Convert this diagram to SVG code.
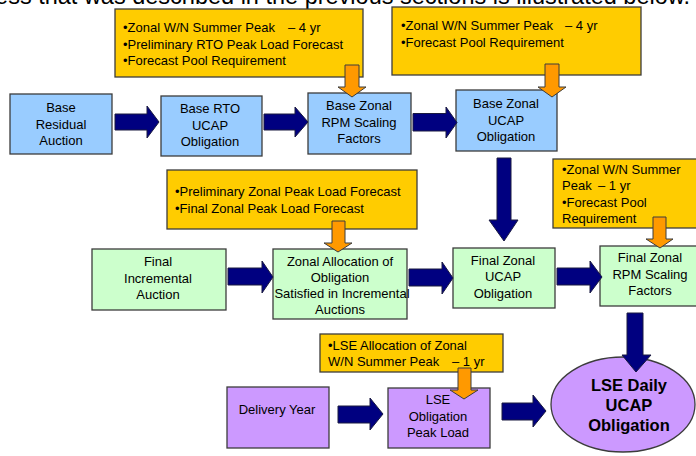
<svg xmlns="http://www.w3.org/2000/svg" width="696" height="456" viewBox="0 0 696 456">
<style>
text{font-family:"Liberation Sans",Arial,sans-serif;font-size:13px;fill:#000}
.c{text-anchor:middle}
.b{font-weight:bold;font-size:16.5px}
.blue{fill:#99CCFF;stroke:#3c3c3c;stroke-width:1.3}
.green{fill:#CCFFCC;stroke:#3c3c3c;stroke-width:1.3}
.purple{fill:#CC99FF;stroke:#3c3c3c;stroke-width:1.3}
.yellow{fill:#FFCC00;stroke:#3c3c3c;stroke-width:1.3}
.navy{fill:#000080;stroke:#1a1a40;stroke-width:1}
.orange{fill:#FF9900;stroke:#3c3c3c;stroke-width:1}
.title{font-size:23.5px;text-anchor:end}
</style>
<rect width="696" height="456" fill="#fff"/>
<text class="title" x="690" y="3.5">process that was described in the previous sections is illustrated below.</text>

<g id="note-base-rto">
<rect class="yellow" x="115" y="9" width="248" height="68"/>
<text x="123" y="32">•Zonal W/N Summer Peak<tspan x="288">– 4 yr</tspan></text>
<text x="123" y="48.5">•Preliminary RTO Peak Load Forecast</text>
<text x="123" y="65">•Forecast Pool Requirement</text>
</g>
<g id="note-base-zonal">
<rect class="yellow" x="392" y="7" width="249" height="68"/>
<text x="401" y="30">•Zonal W/N Summer Peak<tspan x="565">– 4 yr</tspan></text>
<text x="401" y="47">•Forecast Pool Requirement</text>
</g>
<g id="note-zonal-forecast">
<rect class="yellow" x="167" y="170" width="250" height="59"/>
<text x="175" y="196">•Preliminary Zonal Peak Load Forecast</text>
<text x="175" y="213">•Final Zonal Peak Load Forecast</text>
</g>
<g id="note-final-zonal">
<rect class="yellow" x="553" y="159" width="150" height="69"/>
<text x="562" y="174">•Zonal W/N Summer</text>
<text x="562" y="190">Peak<tspan x="598">– 1 yr</tspan></text>
<text x="562" y="207">•Forecast Pool</text>
<text x="562" y="223">Requirement</text>
</g>
<g id="note-lse">
<rect class="yellow" x="320" y="334" width="183" height="38"/>
<text x="328" y="350">•LSE Allocation of Zonal</text>
<text x="328" y="366">W/N Summer Peak<tspan x="452">– 1 yr</tspan></text>
</g>

<g id="base-residual-auction">
<rect class="blue" x="10" y="94" width="102" height="60"/>
<text class="c" x="61" y="112">Base</text>
<text class="c" x="61" y="128.5">Residual</text>
<text class="c" x="61" y="145">Auction</text>
</g>
<g id="base-rto-ucap">
<rect class="blue" x="161" y="96" width="101" height="60"/>
<text class="c" x="210" y="113">Base RTO</text>
<text class="c" x="210" y="129.5">UCAP</text>
<text class="c" x="210" y="146">Obligation</text>
</g>
<g id="base-zonal-rpm">
<rect class="blue" x="308" y="93" width="103" height="61"/>
<text class="c" x="359" y="110">Base Zonal</text>
<text class="c" x="359" y="126.5">RPM Scaling</text>
<text class="c" x="359" y="143">Factors</text>
</g>
<g id="base-zonal-ucap">
<rect class="blue" x="456" y="90" width="101" height="61"/>
<text class="c" x="506" y="108">Base Zonal</text>
<text class="c" x="506" y="124.5">UCAP</text>
<text class="c" x="506" y="141">Obligation</text>
</g>

<g id="final-incremental-auction">
<rect class="green" x="92" y="249" width="134" height="61"/>
<text class="c" x="158" y="266">Final</text>
<text class="c" x="158" y="282.5">Incremental</text>
<text class="c" x="158" y="299">Auction</text>
</g>
<g id="zonal-allocation">
<rect class="green" x="273" y="249" width="134" height="70"/>
<text class="c" x="340" y="266">Zonal Allocation of</text>
<text class="c" x="340" y="282">Obligation</text>
<text class="c" x="342" y="298">Satisfied in Incremental</text>
<text class="c" x="340" y="313.5">Auctions</text>
</g>
<g id="final-zonal-ucap">
<rect class="green" x="453" y="248" width="102" height="60"/>
<text class="c" x="503" y="264.5">Final Zonal</text>
<text class="c" x="503" y="281">UCAP</text>
<text class="c" x="503" y="297.5">Obligation</text>
</g>
<g id="final-zonal-rpm">
<rect class="green" x="600" y="246" width="98" height="60"/>
<text class="c" x="650" y="262">Final Zonal</text>
<text class="c" x="650" y="278.5">RPM Scaling</text>
<text class="c" x="650" y="295">Factors</text>
</g>

<g id="delivery-year">
<rect class="purple" x="227" y="387" width="102" height="61"/>
<text class="c" x="277" y="414">Delivery Year</text>
</g>
<g id="lse-obligation-peak-load">
<rect class="purple" x="388" y="388" width="102" height="60"/>
<text class="c" x="438" y="403.5">LSE</text>
<text class="c" x="438" y="420.5">Obligation</text>
<text class="c" x="438" y="437">Peak Load</text>
</g>
<g id="lse-daily-ucap">
<ellipse class="purple" cx="623" cy="404.5" rx="72" ry="47.5"/>
<text class="c b" x="629" y="391">LSE Daily</text>
<text class="c b" x="629" y="411">UCAP</text>
<text class="c b" x="629" y="431">Obligation</text>
</g>

<g id="connectors">
<polygon class="navy" points="115,114 147,114 147,106 159,122 147,138 147,130 115,130"/>
<polygon class="navy" points="264,114 295,114 295,107 308,122 295,137 295,130 264,130"/>
<polygon class="navy" points="413,113.5 446,113.5 446,107 457,122.5 446,138 446,131 413,131"/>
<polygon class="navy" points="497,158 511,158 511,220 518,220 504,241 489,220 497,220"/>
<polygon class="navy" points="228,268 262,268 262,261 273,277 262,293 262,285 228,285"/>
<polygon class="navy" points="409,269 442,269 442,262 453,278 442,294 442,286 409,286"/>
<polygon class="navy" points="557,268 590,268 590,261 602,277 590,293 590,285 557,285"/>
<polygon class="navy" points="627,313 643,313 643,355 651,355 636,372 622,355 627,355"/>
<polygon class="navy" points="338,406 370,406 370,398 383,414 370,430 370,423 338,423"/>
<polygon class="navy" points="502,403 533,403 533,395 546,411 533,427 533,420 502,420"/>
<polygon class="orange" points="345,65 359,65 359,87 366,87 352,97 338,87 345,87"/>
<polygon class="orange" points="545,64 559,64 559,87 566,87 552,97 538,87 545,87"/>
<polygon class="orange" points="332,221 345,221 345,243 352,243 338,252 324,243 332,243"/>
<polygon class="orange" points="653,217 666,217 666,239 673,239 660,248 646,239 653,239"/>
<polygon class="orange" points="458,368 471,368 471,390 478,390 464,399 450,390 458,390"/>
</g>
</svg>
